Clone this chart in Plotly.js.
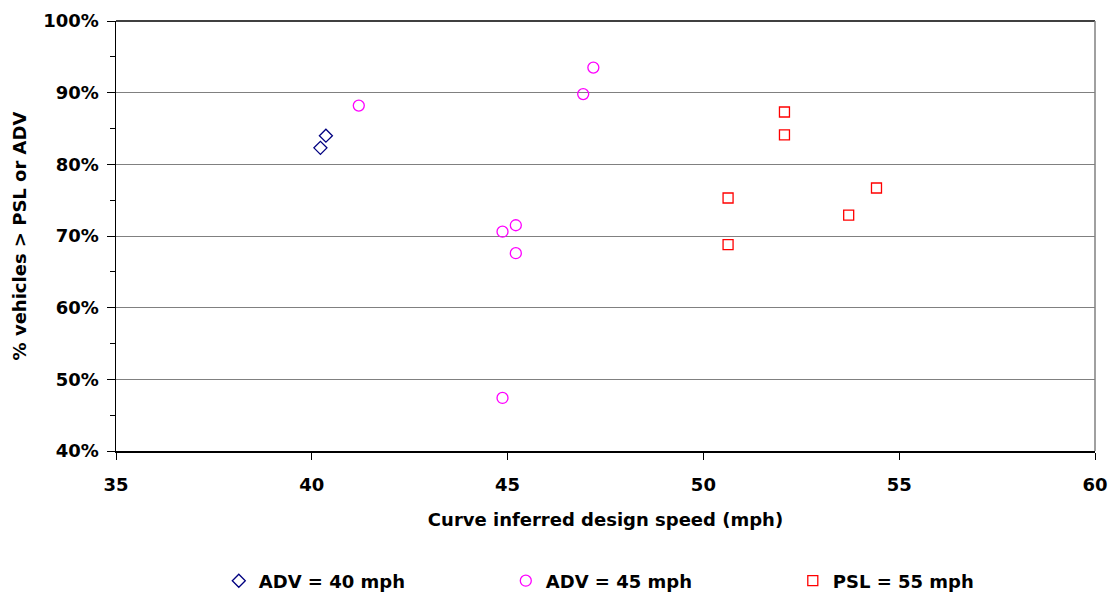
<!DOCTYPE html>
<html>
<head>
<meta charset="utf-8">
<script src="https://cdn.plot.ly/plotly-3.0.1.min.js"></script>
<style>html,body{margin:0;padding:0;background:#fff;}#chart{width:1109px;height:593px;}</style>
</head>
<body>
<div id="chart"></div>
<script>
// Series: ADV = 40 mph
const adv40X = [40.36, 40.22];
const adv40Y = [0.840, 0.823];
// Series: ADV = 45 mph
const adv45X = [41.2, 47.19, 46.93, 45.21, 44.87, 45.21, 44.87];
const adv45Y = [0.882, 0.935, 0.898, 0.715, 0.706, 0.676, 0.474];
// Series: PSL = 55 mph
const psl55X = [52.07, 52.07, 54.42, 50.63, 53.71, 50.63];
const psl55Y = [0.873, 0.841, 0.767, 0.753, 0.729, 0.688];
const seriesNames = ["ADV = 40 mph", "ADV = 45 mph", "PSL = 55 mph"];

const font = "DejaVu Sans, Arial, sans-serif";

const traces = [
  {x: adv40X, y: adv40Y, name: seriesNames[0], type: "scatter", mode: "markers",
   marker: {symbol: "diamond-open", size: 10, color: "#000080", line: {width: 1.3, color: "#000080"}}},
  {x: adv45X, y: adv45Y, name: seriesNames[1], type: "scatter", mode: "markers",
   marker: {symbol: "circle-open", size: 11, color: "#FF00FF", line: {width: 1.3, color: "#FF00FF"}}},
  {x: psl55X, y: psl55Y, name: seriesNames[2], type: "scatter", mode: "markers",
   marker: {symbol: "square-open", size: 10, color: "#FF0000", line: {width: 1.3, color: "#FF0000"}}}
];

const layout = {
  width: 1109, height: 593,
  margin: {l: 116, r: 14, t: 21, b: 142},
  paper_bgcolor: "#fff", plot_bgcolor: "#fff",
  font: {family: font, size: 18, color: "#000"},
  showlegend: true,
  xaxis: {
    range: [35, 60], dtick: 5, tick0: 35, automargin: false,
    showgrid: false, zeroline: false,
    showline: true, linecolor: "#000", linewidth: 1.5,
    ticks: "outside", ticklen: 7, tickcolor: "#000", tickwidth: 1,
    ticklabelstandoff: 10,
    tickfont: {family: font, size: 18, weight: "bold"},
    title: {text: "Curve inferred design speed (mph)", font: {family: font, size: 18, weight: "bold"}, standoff: 19}
  },
  yaxis: {
    range: [0.4, 1.0], dtick: 0.1, tick0: 0.4, tickformat: ".0%", automargin: false,
    showgrid: true, gridcolor: "#808080", gridwidth: 1,
    zeroline: false,
    showline: true, linecolor: "#000", linewidth: 1.5,
    ticks: "outside", ticklen: 8, tickcolor: "#000", tickwidth: 1,
    ticklabelstandoff: 4,
    minor: {dtick: 0.05, tick0: 0.4, ticks: "outside", ticklen: 5, tickcolor: "#000", showgrid: false},
    tickfont: {family: font, size: 18, weight: "bold"},
    title: {text: "% vehicles > PSL or ADV", font: {family: font, size: 18, weight: "bold"}, standoff: 12}
  },
  legend: {
    orientation: "h", x: 0.105, xanchor: "left",
    yref: "container", y: 0.0202, yanchor: "middle",
    entrywidth: 242, entrywidthmode: "pixels",
    font: {family: font, size: 18, weight: "bold"},
    bgcolor: "rgba(0,0,0,0)"
  },
  shapes: [
    {type: "line", xref: "paper", yref: "paper", x0: 0, x1: 1, y0: 1, y1: 1, line: {color: "#000", width: 1.5}},
    {type: "line", xref: "paper", yref: "paper", x0: 1, x1: 1, y0: 0, y1: 1, line: {color: "#808080", width: 1.5}}
  ]
};

Plotly.newPlot("chart", traces, layout, {displayModeBar: false, staticPlot: true});
</script>
</body>
</html>
